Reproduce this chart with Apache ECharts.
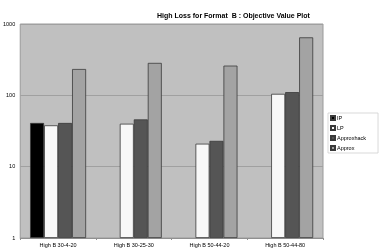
<!DOCTYPE html>
<html><head><meta charset="utf-8">
<script src="https://cdn.jsdelivr.net/npm/echarts@6/dist/echarts.min.js"></script>
<style>html,body{margin:0;padding:0;background:#fff}#c{width:379px;height:251px}</style>
</head><body><div id="c"></div>
<script>
const categories = ['High B 30-4-20', 'High B 30-25-30', 'High B 50-44-20', 'High B 50-44-80'];
const ipValues = [41, null, null, null];
const lpValues = [38, 40, 21, 105];
const approxhackValues = [41, 46, 23, 111];
const approxValues = [234, 285, 261, 650];
const yTicks = [1, 10, 100, 1000];

const chart = echarts.init(document.getElementById('c'));
const border = {borderColor: '#3a3a3a', borderWidth: 0.8};
function s(name, data, color) {
  return {name, type: 'bar', data, barWidth: 14, barGap: '0%',
    itemStyle: Object.assign({color}, border)};
}
chart.setOption({
  animation: false,
  title: {text: 'High Loss for Format  B : Objective Value Plot', left: 152, top: 8,
    textStyle: {fontFamily: 'Liberation Sans', fontSize: 7, fontWeight: 'bold', color: '#000'}},
  legend: {orient: 'vertical', left: 328, top: 113, itemWidth: 4, itemHeight: 4, itemGap: 4,
    padding: [2, 12, 2, 2], borderColor: '#cfcfcf', borderWidth: 0.8, backgroundColor: '#fff',
    icon: 'rect', textStyle: {fontFamily: 'Liberation Sans', fontSize: 5.5, color: '#000', padding: [0, 0, 0, -3]},
    data: ['IP', 'LP', 'Approxhack', 'Approx']},
  grid: {left: 16, right: 56, top: 24, bottom: 13, show: true, backgroundColor: '#c0c0c0', borderColor: '#9a9a9a', borderWidth: 1},
  xAxis: {type: 'category', data: categories,
    axisLine: {lineStyle: {color: '#909090'}},
    axisTick: {show: true, lineStyle: {color: '#909090'}, length: 2},
    axisLabel: {fontFamily: 'Liberation Sans', fontSize: 5.5, color: '#000', margin: 4}},
  yAxis: {type: 'log', logBase: 10, min: yTicks[0], max: yTicks[yTicks.length - 1],
    axisLine: {show: false}, axisTick: {show: false},
    splitLine: {lineStyle: {color: '#a0a0a0', width: 1}},
    axisLabel: {fontFamily: 'Liberation Sans', fontSize: 5.5, color: '#000', margin: 5,
      formatter: v => String(Math.round(v))}},
  series: [
    s('IP', ipValues, '#000000'),
    s('LP', lpValues, '#f8f8f8'),
    s('Approxhack', approxhackValues, '#555555'),
    s('Approx', approxValues, '#a3a3a3')
  ]
});
</script></body></html>
